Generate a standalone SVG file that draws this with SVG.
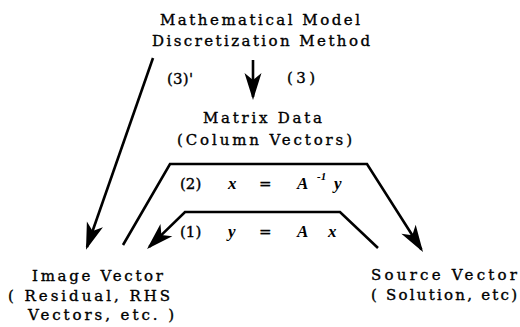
<svg xmlns="http://www.w3.org/2000/svg" width="520" height="327" viewBox="0 0 520 327">
<style>
  text { font-family: "DejaVu Serif", "Liberation Serif", serif; font-size: 15px; fill: #000; }
  .lbl { font-weight: normal; stroke: #000; stroke-width: 0.35; }
  .m { font-family: "Liberation Serif", serif; font-size: 17px; font-style: italic; font-weight: bold; }
  .conn { fill: none; stroke: #000; stroke-width: 2.6; stroke-linejoin: miter; }
</style>
<defs>
  <marker id="ah" markerUnits="userSpaceOnUse" viewBox="-28 -10 32 20" refX="0" refY="0" markerWidth="32" markerHeight="20" orient="auto">
    <path d="M3,0 L-24,-8.5 L-17,0 L-24,8.5 Z" fill="#000"/>
  </marker>
</defs>
<rect width="520" height="327" fill="#fff"/>
<g id="connectors">
  <line id="c3" class="conn" x1="253" y1="60" x2="253" y2="97" marker-end="url(#ah)"/>
  <line id="c3p" class="conn" x1="153" y1="58" x2="87" y2="247" marker-end="url(#ah)"/>
  <polyline id="c2" class="conn" points="123,245 170,164 367,164 421.4,249.5" marker-end="url(#ah)"/>
  <polyline id="c1" class="conn" points="378,248 340,212 185,212 149.2,246.9" marker-end="url(#ah)"/>
</g>
<g id="model">
  <text class="lbl" x="160" y="25" textLength="200" lengthAdjust="spacing">Mathematical Model</text>
  <text class="lbl" x="152" y="46" textLength="218" lengthAdjust="spacing">Discretization Method</text>
</g>
<g id="label3p"><text class="lbl" x="167" y="84" textLength="26" lengthAdjust="spacing">(3)'</text></g>
<g id="label3"><text class="lbl" x="287" y="83" textLength="28" lengthAdjust="spacing">(3)</text></g>
<g id="matrix">
  <text class="lbl" x="203" y="123" textLength="119" lengthAdjust="spacing">Matrix Data</text>
  <text class="lbl" x="177" y="145" textLength="175" lengthAdjust="spacing">(Column Vectors)</text>
</g>
<g id="eq2">
  <text class="lbl" x="180" y="189">(2)</text>
  <text class="m" x="228" y="189">x</text>
  <text class="lbl" x="259" y="189">=</text>
  <text class="m" x="297" y="189">A</text>
  <text class="m" x="317" y="180" style="font-size:11px">-1</text>
  <text class="m" x="334" y="189">y</text>
</g>
<g id="eq1">
  <text class="lbl" x="180" y="237">(1)</text>
  <text class="m" x="228" y="237">y</text>
  <text class="lbl" x="259" y="237">=</text>
  <text class="m" x="297" y="237">A</text>
  <text class="m" x="328" y="237">x</text>
</g>
<g id="image">
  <text class="lbl" x="32" y="281" textLength="131" lengthAdjust="spacing">Image Vector</text>
  <text class="lbl" x="8" y="301" textLength="162" lengthAdjust="spacing">( Residual, RHS</text>
  <text class="lbl" x="28" y="320" textLength="146" lengthAdjust="spacing">Vectors, etc. )</text>
</g>
<g id="source">
  <text class="lbl" x="371" y="280" textLength="146" lengthAdjust="spacing">Source Vector</text>
  <text class="lbl" x="371" y="300" textLength="146" lengthAdjust="spacing">( Solution, etc)</text>
</g>
</svg>
